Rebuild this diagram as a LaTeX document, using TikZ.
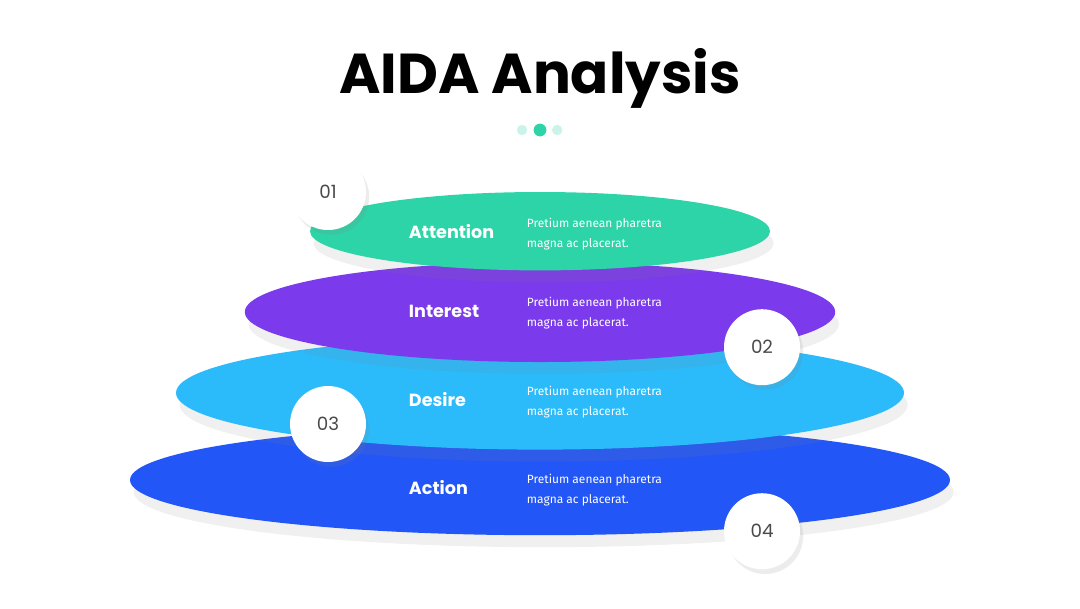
\documentclass[tikz,border=0pt]{standalone}
\usepackage{fontspec}
\setmainfont{Fira Sans}
\newfontfamily\headfont{Poppins}
\usetikzlibrary{shadows}
\definecolor{attgreen}{HTML}{2DD4A7}
\definecolor{intpurple}{HTML}{7B3AEB}
\definecolor{descyan}{HTML}{2BBBFB}
\definecolor{actblue}{HTML}{2356F6}
\definecolor{numgray}{HTML}{4A4A4A}
\tikzset{
  layer/.style={ellipse,draw=none},
  numdisc/.style={circle,fill=white,minimum size=1.9cm,inner sep=0pt,
    drop shadow={opacity=0.15,shadow xshift=0.08cm,shadow yshift=-0.12cm},
    font=\headfont\fontsize{13}{13}\selectfont,text=numgray},
  stagename/.style={anchor=west,text=white,font=\headfont\bfseries\fontsize{12.5}{14}\selectfont},
  stagetext/.style={anchor=west,text=white,align=left,font=\fontsize{8.5}{14}\selectfont}
}
\usetikzlibrary{shapes.geometric}
\begin{document}
\begin{tikzpicture}
\useasboundingbox (0,0) rectangle (27,-15.2);

% title
\node[font=\headfont\bfseries\fontsize{40}{44}\selectfont] (title) at (13.5,-1.95) {AIDA Analysis};
\fill[attgreen!25] (13.05,-3.25) circle (0.13);
\fill[attgreen] (13.5,-3.25) circle (0.16);
\fill[attgreen!25] (13.93,-3.25) circle (0.13);

% layers, bottom first
\fill[actblue, drop shadow={opacity=0.12,shadow yshift=-0.3cm}] (13.5,-12) ellipse (10.25 and 1.38);
\fill[descyan, drop shadow={opacity=0.12,shadow yshift=-0.3cm}] (13.5,-9.82) ellipse (9.1 and 1.42);
\fill[intpurple, drop shadow={opacity=0.12,shadow yshift=-0.3cm}] (13.5,-7.8) ellipse (7.38 and 1.25);
\fill[attgreen, drop shadow={opacity=0.12,shadow yshift=-0.3cm}] (13.5,-5.78) ellipse (5.75 and 0.98);

% labels
\node[stagename] (att) at (10.1,-5.8) {Attention};
\node[stagename] (int) at (10.1,-7.78) {Interest};
\node[stagename] (des) at (10.1,-10) {Desire};
\node[stagename] (act) at (10.1,-12.2) {Action};
\foreach \y/\n in {-5.85/a,-7.82/b,-10.05/c,-12.25/d}
  \node[stagetext] (txt\n) at (13.05,\y) {Pretium aenean pharetra\\magna ac placerat.};

% numbers
\node[numdisc] (n1) at (8.2,-4.8) {01};
\node[numdisc] (n2) at (19.05,-8.68) {02};
\node[numdisc] (n3) at (8.2,-10.6) {03};
\node[numdisc] (n4) at (19.05,-13.28) {04};
\end{tikzpicture}
\end{document}
